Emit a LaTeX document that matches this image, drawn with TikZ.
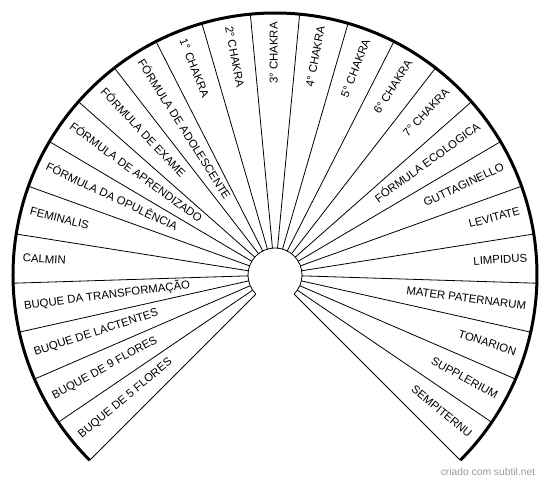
\documentclass[tikz,border=0pt]{standalone}
\usepackage{fontspec}
\setmainfont{Liberation Sans}
\usetikzlibrary{positioning}
\definecolor{ink}{HTML}{000000}
\definecolor{credit}{HTML}{9A9A9A}

\begin{document}
\begin{tikzpicture}[
  x=1pt, y=1pt,
  font=\fontsize{11.4}{13}\selectfont,
  rim/.style={draw=ink, line width=3pt},
  spoke/.style={draw=ink, line width=0.8pt},
  lblout/.style={inner sep=0pt, anchor=mid east},
  lblin/.style={inner sep=0pt, anchor=mid west}
]
  \useasboundingbox (-275,-207) rectangle (275,275);

  % spokes and hub
  \foreach \k in {0,...,25}
    \draw[spoke] (-45+10.8*\k:27) -- (-45+10.8*\k:262);
  \draw[spoke] (225:27) arc[start angle=225, end angle=-45, radius=27];
  \draw[rim] (225:262) arc[start angle=225, end angle=-45, radius=262];

  % labels, counted from the lower right
  \foreach \txt [count=\i from 0] in {SEMPITERNU, SUPPLERIUM, TONARION,
      MATER PATERNARUM, LIMPIDUS, LEVITATE, GUTTAGINELLO, FÓRMULA ECOLOGICA,
      7° CHAKRA, 6° CHAKRA, 5° CHAKRA, 4° CHAKRA, 3° CHAKRA, 2° CHAKRA,
      1° CHAKRA, FÓRMULA DE ADOLESCENTE, FÓRMULA DE EXAME,
      FÓRMULA DE APRENDIZADO, FÓRMULA DA OPULÊNCIA, FEMINALIS, CALMIN,
      BUQUE DA TRANSFORMAÇÃO, BUQUE DE LACTENTES, BUQUE DE 9 FLORES,
      BUQUE DE 5 FLORES} {
    \pgfmathsetmacro{\ang}{-45+10.8*(\i+0.5)}
    \ifnum\i<13
      \node[lblout, rotate=\ang] (l\i) at (\ang:253) {\txt};
    \else
      \node[lblin, rotate=\ang-180] (l\i) at (\ang:253) {\txt};
    \fi
  }

  \node[text=credit, font=\fontsize{10.3}{12}\selectfont] (credit) at (213,-197) {criado com subtil.net};
\end{tikzpicture}
\end{document}
